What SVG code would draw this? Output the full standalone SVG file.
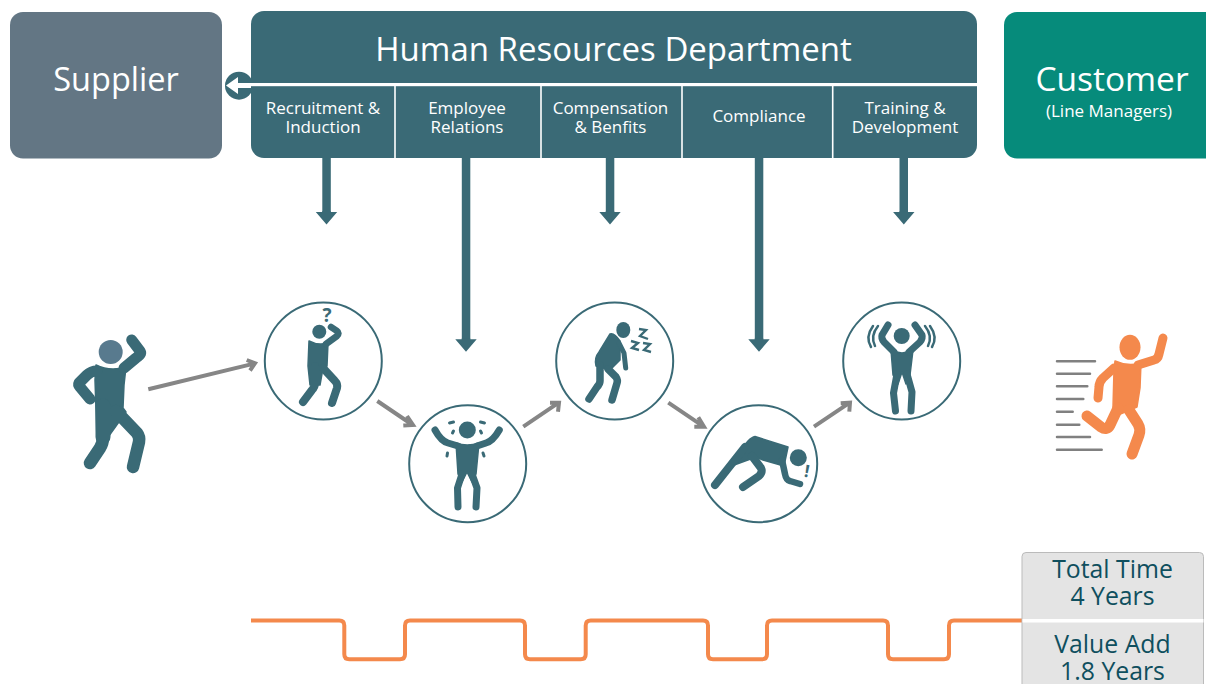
<svg xmlns="http://www.w3.org/2000/svg" width="1206" height="684" viewBox="0 0 1206 684">
<style>
text{font-family:"Open Sans","Noto Sans","Liberation Sans",sans-serif;text-anchor:middle;fill:#fff}
.sub{font-size:17px}
.stat{font-size:24.800px;fill:#0f4f5e}
.ring{fill:#fff;stroke:#3a6a76;stroke-width:2}
.b{fill:#3a6a76;stroke:#3a6a76;stroke-width:1.5;stroke-linejoin:round}
.l{fill:none;stroke:#3a6a76;stroke-linecap:round;stroke-linejoin:round}
.o{fill:#f4894c;stroke:#f4894c;stroke-width:1.5;stroke-linejoin:round}
.ol{fill:none;stroke:#f4894c;stroke-linecap:round;stroke-linejoin:round}
.g{fill:none;stroke:#868686;stroke-width:4}
.sp{stroke:#808080;stroke-width:2.5;stroke-linecap:round}
.d{fill:#3a6a76}
</style>
<defs>
<g id="dn"><path class="d" d="M-10.7 0H-4.200V-1H4.200V0H10.700L0 12.400Z"/></g>
</defs>
<g id="supplier"><rect x="10" y="12" width="212" height="146.500" rx="13" fill="#637684"/><text x="116" y="91" font-size="32.500">Supplier</text></g>
<g id="back-arrow"><circle cx="239" cy="85.700" r="14" fill="#3a6a76"/></g>
<g id="hr"><rect x="251" y="11" width="726" height="147" rx="13" fill="#3a6a76"/>
<text x="613.500" y="61" font-size="33">Human Resources Department</text>
<path d="M226 85.500L238 77V83H251V88H238V94Z" fill="#fff"/>
<rect x="251" y="83" width="726" height="3.200" fill="#fff"/>
<path d="M395 85V158M541 85V158M682 85V158M832.700 85V158" stroke="#fff" stroke-width="1.600"/></g>
<g id="n-recruit"><text class="sub" x="323" y="114">Recruitment &amp;</text><text class="sub" x="323" y="133">Induction</text></g>
<g id="n-employee"><text class="sub" x="467" y="114">Employee</text><text class="sub" x="467" y="133">Relations</text></g>
<g id="n-comp"><text class="sub" x="610.500" y="114">Compensation</text><text class="sub" x="610.500" y="133">&amp; Benfits</text></g>
<g id="n-compliance"><text class="sub" x="759" y="122">Compliance</text></g>
<g id="n-training"><text class="sub" x="905" y="114">Training &amp;</text><text class="sub" x="905" y="133">Development</text></g>
<g id="customer"><rect x="1004" y="12" width="225" height="146.500" rx="13" fill="#068b7b"/><text x="1112" y="91" font-size="33.500">Customer</text><text x="1109" y="117" font-size="17">(Line Managers)</text></g>
<g id="connectors">
<rect class="d" x="322.300" y="158" width="8.500" height="55"/><use href="#dn" x="326.500" y="212"/>
<rect class="d" x="461.800" y="158" width="8.500" height="182"/><use href="#dn" x="466" y="339.300"/>
<rect class="d" x="605.800" y="158" width="8.500" height="55"/><use href="#dn" x="610" y="212"/>
<rect class="d" x="754.800" y="158" width="8.500" height="182"/><use href="#dn" x="759" y="339.300"/>
<rect class="d" x="899.500" y="158" width="8.500" height="55"/><use href="#dn" x="903.800" y="212"/>
<path class="g" d="M148.300 389.300L254 363.600M246.700 360L255 363.300L250 370.500"/>
<path class="g" d="M377.300 401L412 424.500M407 416L413 425L403.300 425.500"/>
<path class="g" d="M523.300 426.700L558 403.200M550 402.700L559 402.700L558 411.700"/>
<path class="g" d="M668.300 402.700L703 426.200M698.300 417.300L704 426.700L694.300 426.700"/>
<path class="g" d="M814 426.700L849 403.200M840.700 403.300L850 402.700L849.300 411.700"/>
<path d="M251 620.500H339.300Q344.300 620.500 344.300 625.500V654.300Q344.300 659.300 349.300 659.300H400Q405 659.300 405 654.300V625.500Q405 620.500 410 620.500H520Q525 620.500 525 625.500V654.300Q525 659.300 530 659.300H580.700Q585.700 659.300 585.700 654.300V625.500Q585.700 620.500 590.700 620.500H703Q708 620.500 708 625.500V654.300Q708 659.300 713 659.300H762Q767 659.300 767 654.300V625.500Q767 620.500 772 620.500H883Q888 620.500 888 625.500V654.300Q888 659.300 893 659.300H944Q949 659.300 949 654.300V625.500Q949 620.500 954 620.500H1022" fill="none" stroke="#f4894c" stroke-width="4"/>
</g>
<g id="person-start">
<circle cx="110.700" cy="352" r="12" fill="#587a8e"/>
<path class="b" d="M96 365Q110 372 126 367L124 385L123 408L126 412L106 440H97L95 380Z"/>
<path class="l" stroke-width="11" d="M131.700 340L140 351Q142 354 136 358L124 368M97 371Q91 371 87 375L79 383Q78 385 80 387L90 399"/>
<path class="l" stroke-width="12.500" d="M103 438Q103 443 100 448L90 463M116 411L137 433Q140 437 139 442L133 467"/>
<path class="l" stroke-width="15" d="M103 406V437"/>
</g>
<g id="state-1"><circle class="ring" cx="323.300" cy="361" r="58.500"/>
<circle cx="319.300" cy="331.700" r="7" fill="#3a6a76"/>
<text x="327" y="322" font-size="19" font-weight="700" style="fill:#3a6a76">?</text>
<path class="b" d="M309 341Q318 346 328 343L327 366L323 368L320 385H310L308 366Z"/>
<path class="l" stroke-width="6.500" d="M331 327L337 331Q340 333 337 336L326 344"/>
<path class="l" stroke-width="8" d="M315 366V383Q315 387 312 390L303 402M323 368L335 381Q338 384 337 388L332 403"/>
</g>
<g id="state-2"><circle class="ring" cx="467.700" cy="463.700" r="58.500"/>
<circle cx="467.300" cy="430" r="8.500" fill="#3a6a76"/>
<path class="b" d="M456 443Q467 447 479 443L476 474L472 482L467 472L462 482L458 474Z"/>
<path class="l" stroke-width="7" d="M435 430Q441 441 448 443L458 446M499.300 430Q493 441 486 443L477 446M462 474L457.500 488L458 507M472 474L477 488L476 507"/>
<path class="l" stroke-width="3" d="M449.500 423L453.500 422M484.500 423L480.500 422M453.500 431L452.500 433M480.500 431L481.500 433M447.500 453L447 456M483 453L484 456"/>
</g>
<g id="state-3"><circle class="ring" cx="614.700" cy="361" r="58.500"/>
<ellipse cx="623.300" cy="330" rx="7" ry="8" fill="#3a6a76"/>
<path class="b" d="M610 334Q614 332 620 341L620 360L610 370L596 366Q594 358 599 352Z"/>
<path class="l" stroke-width="5" d="M619 343L624 353L625.700 368"/>
<path class="l" stroke-width="7.500" d="M600 365V381Q600 384 597 387L589 399M608 369L616 377Q618 380 617 383L612 400"/>
<path fill="none" stroke="#3a6a76" stroke-width="2.400" d="M639 329L646 330L640 336L648 339M631 341L638 343L632 348L639 350M643 343L650 344L644 350L651 352"/>
</g>
<g id="state-4"><circle class="ring" cx="758.700" cy="463.700" r="58.500"/>
<circle cx="798.300" cy="457.700" r="8.500" fill="#3a6a76"/>
<path class="b" d="M755 436.500Q752 437 748 441L726 468L756 457L763 460L784 466L788 447Z"/>
<path class="l" stroke-width="8" d="M745 447L715 485M752 456L761 468Q763 472 759 476L743 487"/>
<path class="l" stroke-width="6.500" d="M782 460L785 474Q786 480 790 481L800 484"/>
<text x="806" y="477" font-size="17" font-weight="700" transform="rotate(10 806 477)" style="fill:#3a6a76">!</text>
</g>
<g id="state-5"><circle class="ring" cx="901.700" cy="361" r="58.500"/>
<circle cx="901.700" cy="336" r="8" fill="#3a6a76"/>
<path class="b" d="M891 350Q902 356 913 350L910 375L906 384L902 372L898 384L893 375Z"/>
<path class="l" stroke-width="7" d="M888 325L882 335Q881 338 884 342L894 352M915 325L922 335Q923 338 920 342L909 352M897 374L893.500 393L895.500 411M907 374L912 392L911 411"/>
<path class="l" stroke-width="2.500" d="M878 326Q870 336 875 346M873 326Q865 337 871 347M925 326Q933 336 928 346M930 326Q938 337 932 347"/>
</g>
<g id="person-end">
<ellipse cx="1130" cy="347.300" rx="10.500" ry="12.500" fill="#f4894c"/>
<path class="o" d="M1115 361Q1128 367 1141 363L1140 388L1137 407L1118 415L1113 407L1114 370Z"/>
<path class="ol" stroke-width="9" d="M1138 365L1154 360Q1158 359 1159 354L1163 338M1114 368L1103 378Q1099 382 1099 387L1098 398"/>
<path class="ol" stroke-width="11" d="M1118 408L1110 425Q1107 431 1101 427L1087 416M1129 410L1138 424Q1141 429 1139 435L1132 454"/>
<path class="sp" d="M1057 361.300H1095M1057 373.700H1090M1057 386.300H1087.300M1057 399H1083.300M1057 411.700H1072.700M1057 424.700H1079.300M1057 437H1090M1057 449.700H1101.700"/>
</g>
<g id="stats">
<rect x="1022" y="552.500" width="181.500" height="140" rx="4" fill="#e4e4e4" stroke="#bbb" stroke-width="1"/>
<rect x="1022.500" y="619" width="181" height="3.500" fill="#fff"/>
<text class="stat" x="1112.500" y="578">Total Time</text><text class="stat" x="1112.500" y="605">4 Years</text>
<text class="stat" x="1112.500" y="653">Value Add</text><text class="stat" x="1112.500" y="680">1.8 Years</text>
</g>
</svg>
